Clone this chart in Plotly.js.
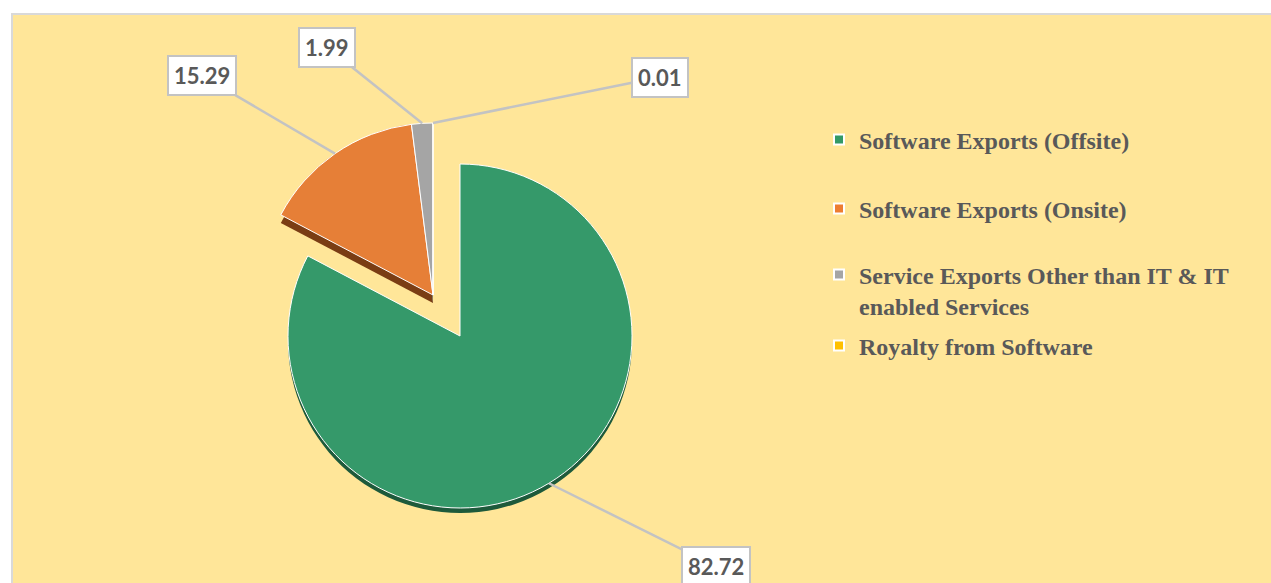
<!DOCTYPE html>
<html><head><meta charset="utf-8">
<script src="https://cdn.plot.ly/plotly-3.0.1.min.js"></script>
<style>html,body{margin:0;padding:0;background:#fff}#chart{width:1271px;height:583px}</style>
</head><body><div id="chart"></div>
<script>
// ---- data ----
const categories = ["Software Exports (Offsite)", "Software Exports (Onsite)", "Service Exports Other than IT & IT enabled Services", "Royalty from Software"];
const legendLabels = ["Software Exports (Offsite)", "Software Exports (Onsite)", "Service Exports Other than IT & IT<br>enabled Services", "Royalty from Software"];
const values = [82.72, 15.29, 1.99, 0.01];
const sliceColors = ["#35996A", "#E67F37", "#A5A5A5", "#FFC000"];
const depthColors = ["#1D5A3B", "#7A3D14", "#6B6B6B", "#9A7400"];
const legendColors = ["#339966", "#ED7D31", "#A5A5A5", "#FFC000"];
const exploded = [false, true, true, true];   // slices pulled out together as a group

// ---- layout geometry (px) ----
const W = 1271, H = 583;
const cx = 460, cy = 336, R = 172;
const depthMain = 5, depthGroup = 8;
const groupShift = [-27, -41];
function dom(dx, dy) {
  return {x: [(cx + dx - R) / W, (cx + dx + R) / W], y: [1 - (cy + dy + R) / H, 1 - (cy + dy - R) / H]};
}
const labelOffsets = [[167, 83], [-133, -78], [-95, -76], [227, -46]];
const legendY = [140, 209, 290.5, 346];
const legendX = 819;
const clear = 'rgba(0,0,0,0)';

// label tips computed from slice angles
const total = values.reduce((a, b) => a + b, 0);
let cum = 0;
const annotations = values.map((v, i) => {
  const mid = (cum + v / 2) / total * 2 * Math.PI; cum += v;
  const s = Math.sin(mid), c = Math.cos(mid);
  const pc = exploded[i] ? [cx + groupShift[0], cy + groupShift[1]] : [cx, cy];
  const tip = [pc[0] + R * s, pc[1] - R * c];
  return {
    x: tip[0] / W, y: 1 - tip[1] / H, xref: 'paper', yref: 'paper',
    text: v.toFixed(2), showarrow: true, arrowhead: 0, arrowwidth: 2.5, arrowcolor: '#C3C3C3',
    ax: labelOffsets[i][0], ay: labelOffsets[i][1],
    bgcolor: '#FFFFFF', bordercolor: '#C3C3C3', borderwidth: 2, borderpad: 5,
    font: {family: 'Lato, "Open Sans", sans-serif', size: 22, color: '#595959', weight: 700}
  };
});

function pieTrace(colorsArr, lineCol, group, dx, dy) {
  return {
    type: 'pie', values: values, labels: categories, sort: false, direction: 'clockwise', rotation: 0,
    marker: {
      colors: colorsArr.map((c, i) => exploded[i] === group ? c : clear),
      line: {color: exploded.map(e => (e === group && lineCol) ? lineCol : clear), width: lineCol ? 1 : 0}
    },
    textinfo: 'none', hoverinfo: 'skip', showlegend: false, domain: dom(dx, dy)
  };
}

const traces = [
  pieTrace(depthColors, null, false, 0, depthMain),
  pieTrace(depthColors, null, true, groupShift[0], groupShift[1] + depthGroup),
  pieTrace(sliceColors, '#FFFFFF', false, 0, 0),
  pieTrace(sliceColors, '#FFFFFF', true, groupShift[0], groupShift[1])
];

const legendFont = {family: '"Liberation Serif", "Times New Roman", serif', size: 24, color: '#595959', weight: 700};
const layout = {
  width: W, height: H, margin: {l: 0, r: 0, t: 0, b: 0},
  paper_bgcolor: '#FFFFFF', plot_bgcolor: clear,
  xaxis: {visible: false, range: [0, 1]}, yaxis: {visible: false, range: [0, 1]},
  shapes: [{type: 'rect', xref: 'paper', yref: 'paper', x0: 12 / W, x1: 1.01, y0: -0.02, y1: 1 - 14 / H,
            fillcolor: '#FFE699', line: {color: '#D9D9D9', width: 2}, layer: 'below'}],
  annotations: annotations
};

legendLabels.forEach((lab, i) => {
  const key = i === 0 ? 'legend' : 'legend' + (i + 1);
  traces.push({type: 'scatter', mode: 'markers', x: [null], y: [null], name: lab,
    marker: {symbol: 'square', size: 10, color: legendColors[i], line: {color: '#FFFFFF', width: 2}},
    legend: key, showlegend: true, hoverinfo: 'skip'});
  layout[key] = {x: legendX / W, y: 1 - legendY[i] / H, xanchor: 'left', yanchor: 'middle',
    bgcolor: clear, borderwidth: 0, font: legendFont, valign: 'top', itemclick: false, itemdoubleclick: false};
});

Plotly.newPlot('chart', traces, layout, {displayModeBar: false, staticPlot: true});
</script></body></html>
